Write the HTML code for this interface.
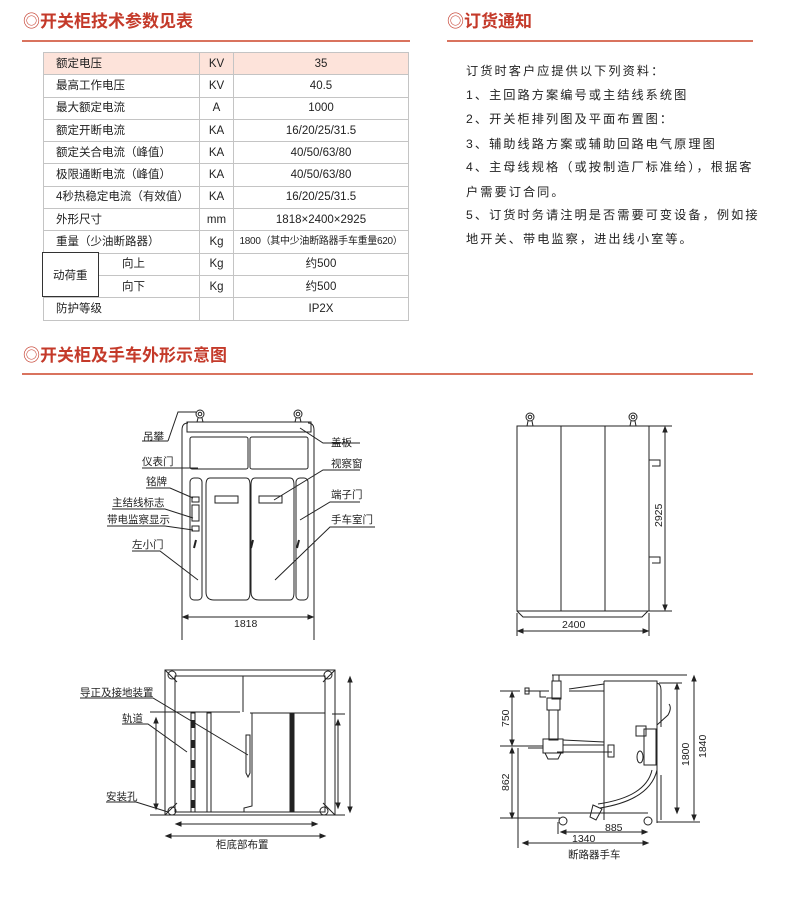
<!DOCTYPE html>
<html><head><meta charset="utf-8"><style>
body{margin:0;width:790px;height:906px;background:#fff;position:relative;overflow:hidden;font-family:"Liberation Sans","Noto Sans CJK SC",sans-serif;color:#222}
.h{position:absolute;color:#c43a2a;font-size:17px;font-weight:bold;line-height:20px;white-space:nowrap}
.h span{font-weight:normal}
.hl{position:absolute;height:2px;background:#d9735e}
table{position:absolute;left:43px;top:52px;border-collapse:collapse;font-size:11.5px}
td{border:1px solid #c4c4c4;height:21.3px;padding:0;line-height:12px}
td.a{padding-left:12px;width:143px}
td.u{text-align:center;width:33px}
td.v{text-align:center;width:174px}
.t{position:absolute;left:466px;font-size:12.2px;letter-spacing:2.05px;white-space:nowrap;line-height:16px}
svg{position:absolute;left:0;top:0}
svg text{font-family:"Liberation Sans","Noto Sans CJK SC",sans-serif;font-size:10.5px;fill:#222;stroke:none}
</style></head><body>
<div class="h" style="left:23px;top:12px"><span>◎</span>开关柜技术参数见表</div>
<div class="hl" style="left:22px;top:40px;width:388px"></div>
<div class="h" style="left:447px;top:12px"><span>◎</span>订货通知</div>
<div class="hl" style="left:447px;top:40px;width:306px"></div>
<div class="h" style="left:23px;top:346px"><span>◎</span>开关柜及手车外形示意图</div>
<div class="hl" style="left:22px;top:373px;width:731px"></div>

<table>
<tr style="background:#fde3da"><td class="a">额定电压</td><td class="u">KV</td><td class="v" style="background:#fde3da">35</td></tr>
<tr><td class="a">最高工作电压</td><td class="u">KV</td><td class="v">40.5</td></tr>
<tr><td class="a">最大额定电流</td><td class="u">A</td><td class="v">1000</td></tr>
<tr><td class="a">额定开断电流</td><td class="u">KA</td><td class="v">16/20/25/31.5</td></tr>
<tr><td class="a">额定关合电流（峰值）</td><td class="u">KA</td><td class="v">40/50/63/80</td></tr>
<tr><td class="a">极限通断电流（峰值）</td><td class="u">KA</td><td class="v">40/50/63/80</td></tr>
<tr><td class="a">4秒热稳定电流（有效值）</td><td class="u">KA</td><td class="v">16/20/25/31.5</td></tr>
<tr><td class="a">外形尺寸</td><td class="u">mm</td><td class="v">1818×2400×2925</td></tr>
<tr><td class="a">重量（少油断路器）</td><td class="u">Kg</td><td class="v" style="font-size:10px;letter-spacing:-0.3px">1800（其中少油断路器手车重量620）</td></tr>
<tr><td class="a" style="padding:0"><div style="display:flex;height:21px;align-items:center"><div style="width:56px"></div><div style="padding-left:22px">向上</div></div></td><td class="u">Kg</td><td class="v">约500</td></tr>
<tr><td class="a" style="padding:0"><div style="display:flex;height:21px;align-items:center"><div style="width:56px"></div><div style="padding-left:22px">向下</div></div></td><td class="u">Kg</td><td class="v">约500</td></tr>
<tr><td class="a">防护等级</td><td class="u"></td><td class="v">IP2X</td></tr>
</table>
<div style="position:absolute;left:42px;top:252px;height:43px;border:1.5px solid #333;background:#fff;font-size:11.5px;display:flex;align-items:center;padding-left:10px;box-sizing:content-box;width:45px">动荷重</div>

<div class="t" style="top:63px">订货时客户应提供以下列资料：</div>
<div class="t" style="top:87px">1、主回路方案编号或主结线系统图</div>
<div class="t" style="top:111px">2、开关柜排列图及平面布置图：</div>
<div class="t" style="top:136px">3、辅助线路方案或辅助回路电气原理图</div>
<div class="t" style="top:159px">4、主母线规格（或按制造厂标准给），根据客</div>
<div class="t" style="top:184px">户需要订合同。</div>
<div class="t" style="top:207px">5、订货时务请注明是否需要可变设备，例如接</div>
<div class="t" style="top:231px">地开关、带电监察，进出线小室等。</div>

<svg width="790" height="906" viewBox="0 0 790 906" fill="none" stroke="#222" stroke-width="1">
<path d="M182 640 V430 Q182 423 188 423 M314 640 V430 Q314 423 308 423"/>
<rect x="187" y="422" width="124" height="10"/>
<circle cx="200" cy="414" r="4"/><circle cx="200" cy="414" r="1.8"/><path d="M198 418 L197 422 M202 418 L203 422"/>
<circle cx="298" cy="414" r="4"/><circle cx="298" cy="414" r="1.8"/><path d="M296 418 L295 422 M300 418 L301 422"/>
<rect x="190" y="437" width="58" height="32" rx="2"/><rect x="250" y="437" width="58" height="32" rx="2"/>
<rect x="190" y="478" width="12" height="122" rx="4"/><rect x="296" y="478" width="12" height="122" rx="4"/>
<path d="M210 478 Q206 478 206 485 V592 Q206 600 214 600 H246 Q250 600 250 592 V485 Q250 478 246 478 Z"/>
<path d="M255 478 Q251 478 251 485 V592 Q251 600 259 600 H290 Q294 600 294 592 V485 Q294 478 290 478 Z"/>
<rect x="215" y="496" width="23" height="7"/><rect x="259" y="496" width="23" height="7"/>
<rect x="192" y="497" width="7" height="5"/><rect x="192" y="505" width="7" height="16"/><rect x="192" y="526" width="7" height="5"/>
<path d="M196 540 l-2 8 M253 540 l-2 8 M299 540 l-2 8" stroke-width="2"/>
<path d="M183 617 H313" /><path d="M183 617 l5 -2 v4 z M313 617 l-5 -2 v4 z" fill="#222"/>
<text x="234" y="627">1818</text>
<path d="M168 441 L178 412 H196 M142 441 H168"/>
<path d="M142 468 H198"/><path d="M146 488 H170 L193 498"/><path d="M112 509 H165 L193 518"/><path d="M107 526 H165 L193 530"/><path d="M132 551 H160 L198 580"/>
<path d="M300 428 L323 443 H360"/><path d="M274 500 L323 470 H360"/><path d="M300 520 L330 502 H360"/><path d="M275 580 L330 527 H375"/>
<text x="143" y="440">吊攀</text><text x="142" y="465">仪表门</text><text x="146" y="485">铭牌</text><text x="112" y="506">主结线标志</text><text x="107" y="523">带电监察显示</text><text x="132" y="548">左小门</text>
<text x="331" y="446">盖板</text><text x="331" y="467">视察窗</text><text x="331" y="498">端子门</text><text x="331" y="523">手车室门</text>

<rect x="517" y="426" width="132" height="185"/><path d="M561 426 V611 M605 426 V611"/>
<circle cx="530" cy="417" r="4"/><circle cx="530" cy="417" r="1.8"/><circle cx="633" cy="417" r="4"/><circle cx="633" cy="417" r="1.8"/>
<path d="M528 421 L527 426 M532 421 L533 426 M631 421 L630 426 M635 421 L636 426"/>
<path d="M649 460 H660 V466 H652 M649 557 H660 V563 H652"/>
<path d="M517 611 L523 617 H642 L648 611"/>
<path d="M649 426 H672 M649 611 H672 M665 427 V610"/><path d="M665 427 l-2 5 h4 z M665 610 l-2 -5 h4 z" fill="#222"/>
<text transform="translate(662 527) rotate(-90)">2925</text>
<path d="M517 613 V636 M649 613 V636 M518 631 H648"/><path d="M518 631 l5 -2 v4 z M648 631 l-5 -2 v4 z" fill="#222"/>
<text x="562" y="628">2400</text>

<rect x="165" y="670" width="170" height="145"/><rect x="175" y="676" width="150" height="136"/>
<path d="M165 670 L177 682 M335 670 L323 682 M165 815 L177 803 M335 815 L323 803"/>
<circle cx="172" cy="675" r="4"/><circle cx="328" cy="675" r="4"/><circle cx="172" cy="811" r="4"/><circle cx="324" cy="811" r="4"/>
<path d="M150 712 H240 M250 713 H325 M243 676 V712 M252 713 V806 L244 808 V812"/>
<path d="M150 815 H345 M332 714 H345"/>
<rect x="191" y="713" width="4" height="99"/><rect x="207" y="713" width="4" height="99"/>
<path d="M193 720 V728 M193 740 V748 M193 760 V768 M193 780 V788 M193 800 V808" stroke-width="4"/>
<rect x="290" y="714" width="4" height="98" fill="#222"/>
<path d="M246 735 H250 V773 L248 777 L246 773 Z"/>
<path d="M176 824 H317 M166 836 H325"/><path d="M176 824 l5 -2 v4 z M317 824 l-5 -2 v4 z M166 836 l5 -2 v4 z M325 836 l-5 -2 v4 z" fill="#222"/>
<path d="M156 718 V809 M338 720 V808 M350 677 V812"/><path d="M156 718 l-2 5 h4 z M156 809 l-2 -5 h4 z M338 720 l-2 5 h4 z M338 808 l-2 -5 h4 z M350 677 l-2 5 h4 z M350 812 l-2 -5 h4 z" fill="#222"/>
<path d="M80 698 H153 L248 755 M122 724 H148 L187 752 M106 802 H136 L168 812"/>
<text x="80" y="696">导正及接地装置</text><text x="122" y="722">轨道</text><text x="106" y="800">安装孔</text>
<text x="216" y="848">柜底部布置</text>

<path d="M604 681 H657 V823 M604 681 V820"/>
<path d="M657 683 Q661 684 661 690 V727 M661 775 V820"/>
<path d="M552 675 H687"/><rect x="553" y="675" width="6" height="6"/><rect x="552" y="681" width="9" height="18"/>
<rect x="547" y="698" width="13" height="12"/><rect x="549" y="710" width="9" height="30"/>
<path d="M525 691 H549 M525 688 H529 V694 H525 Z M540 691 V697 H546 M569 691 H604 M569 689 L604 684"/>
<rect x="543" y="739" width="20" height="14"/><path d="M545 753 L548 759 H558 L561 753"/>
<path d="M520 746 H543 M563 740 L604 742 M563 745 H604 M528 748 H543 M557 752 H612"/>
<rect x="608" y="745" width="6" height="12"/>
<rect x="636" y="726" width="10" height="10"/><rect x="644" y="729" width="12" height="36"/><ellipse cx="640" cy="757" rx="3" ry="6"/>
<path d="M657 725 L668 715 Q672 708 669 704"/>
<path d="M657 770 Q650 800 600 808 M652 770 Q646 797 598 804"/>
<path d="M593 805 L602 809 L596 820 L590 817 Z"/>
<path d="M558 813 H648"/><circle cx="563" cy="821" r="4"/><circle cx="648" cy="821" r="4"/>
<path d="M500 691 H520 M500 746 H520 M500 818 H560 M512 692 V745 M512 748 V818"/><path d="M512 692 l-2 5 h4 z M512 745 l-2 -5 h4 z M512 748 l-2 5 h4 z M512 818 l-2 -5 h4 z" fill="#222"/>
<text transform="translate(509 727) rotate(-90)">750</text><text transform="translate(509 791) rotate(-90)">862</text>
<path d="M659 683 H682 M657 822 H700 M677 684 V813 M694 676 V820"/><path d="M677 684 l-2 5 h4 z M677 813 l-2 -5 h4 z M694 676 l-2 5 h4 z M694 820 l-2 -5 h4 z" fill="#222"/>
<text transform="translate(689 766) rotate(-90)">1800</text><text transform="translate(706 758) rotate(-90)">1840</text>
<path d="M558 822 V834 M518 748 V848 M561 832 H647 M523 843 H648"/><path d="M561 832 l5 -2 v4 z M647 832 l-5 -2 v4 z M523 843 l5 -2 v4 z M648 843 l-5 -2 v4 z" fill="#222"/>
<text x="605" y="831">885</text><text x="572" y="842">1340</text>
<text x="568" y="858">断路器手车</text>
</svg>
</body></html>
